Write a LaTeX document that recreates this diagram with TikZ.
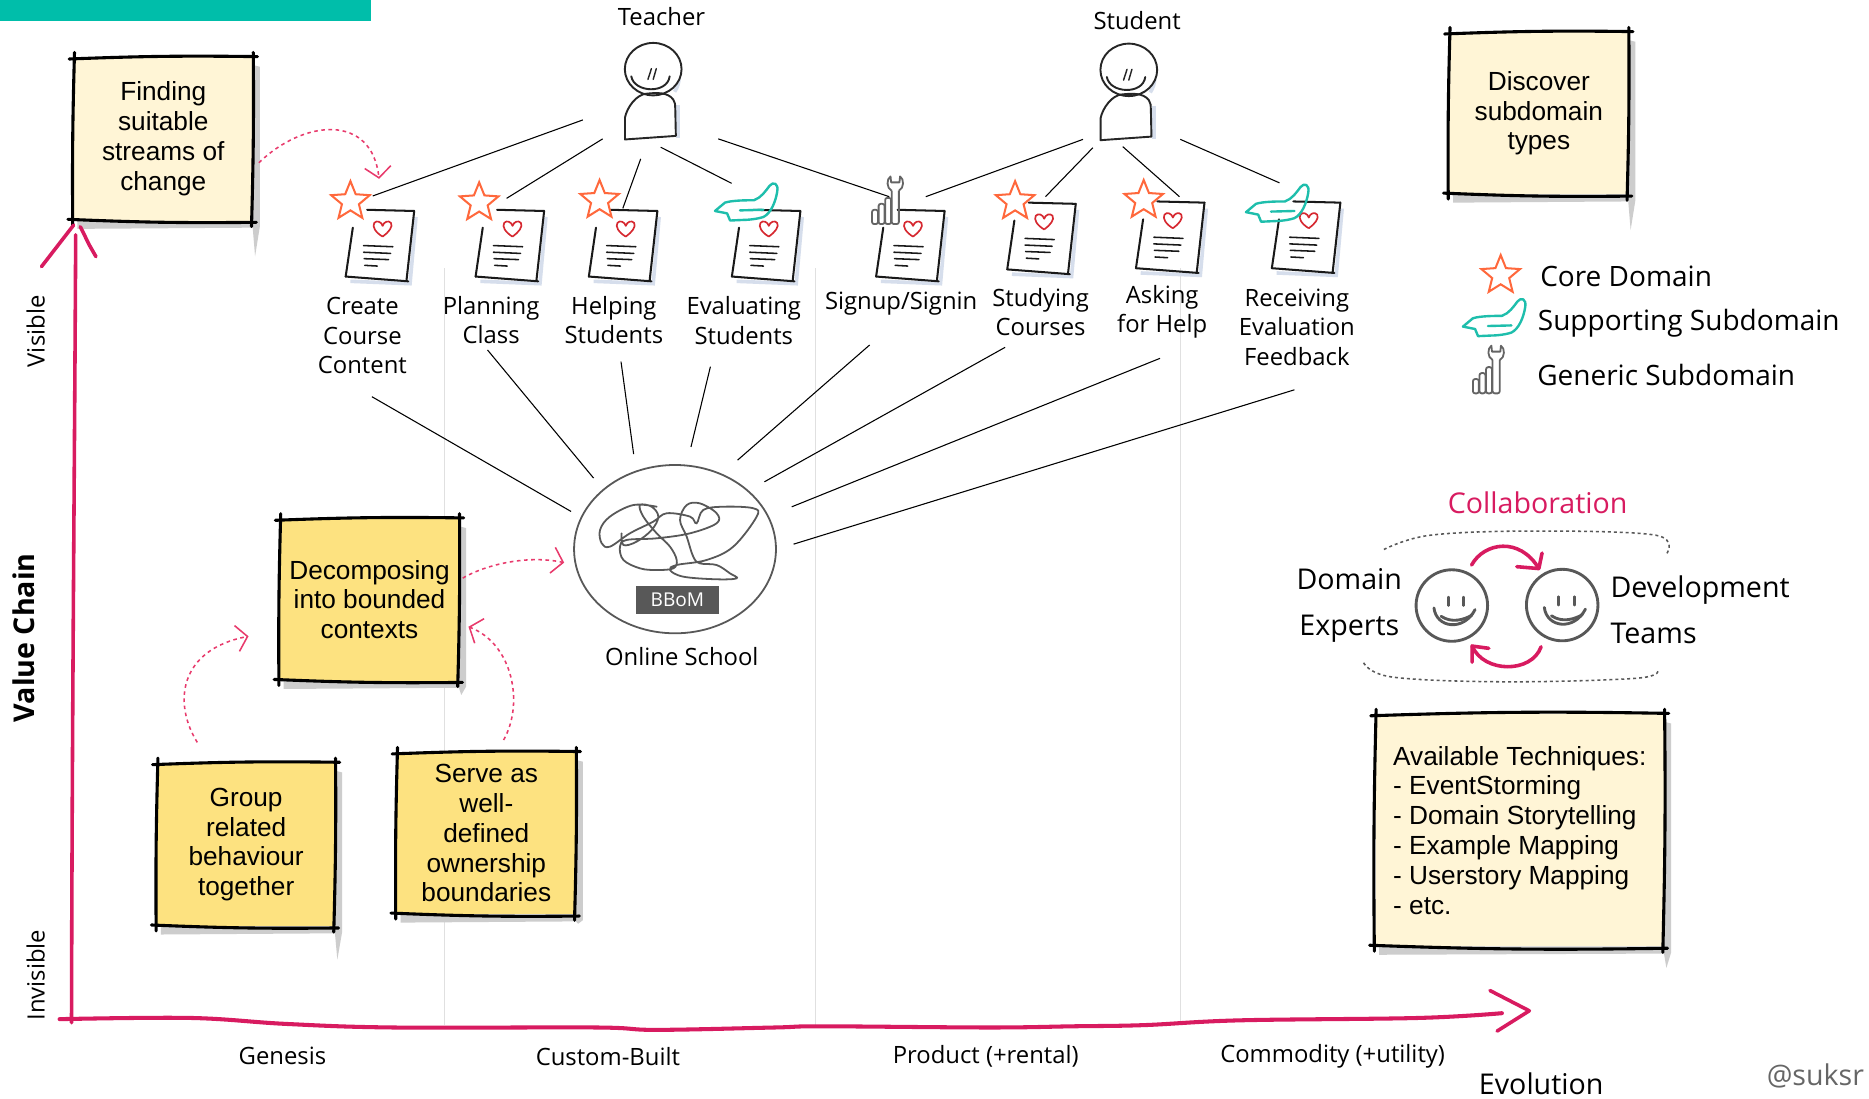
\documentclass[tikz,border=0pt]{standalone}
\usepackage{fontspec}
\setmainfont{Open Sans}
\newfontfamily\notefont{Liberation Sans}
\usetikzlibrary{arrows.meta,calc}

\definecolor{barteal}{RGB}{0,190,170}
\definecolor{axismag}{RGB}{216,27,96}
\definecolor{dashpink}{RGB}{232,58,108}
\definecolor{notecream}{RGB}{255,245,214}
\definecolor{noteyellow}{RGB}{253,226,128}
\definecolor{starorange}{RGB}{255,104,60}
\definecolor{heartred}{RGB}{214,40,48}
\definecolor{handteal}{RGB}{30,190,172}
\definecolor{inkgray}{RGB}{88,88,88}
\definecolor{gridgray}{RGB}{224,224,224}
\definecolor{shadowgray}{RGB}{205,205,205}
\definecolor{pageshade}{RGB}{214,222,236}
\definecolor{handlegray}{RGB}{100,100,100}

% sticky note: name, x1, y1, x2, y2, fill, shadow tail, node options, text
\newcommand\stickynote[9]{%
  \fill[shadowgray] (#4-2,#3+6) -- (#4+6,#3+8) -- (#4+6,#5+5) -- (#4+2,#5+#7) -- (#4,#5+6) -- (#2+3,#5+7) -- (#2+3,#5) -- (#4-2,#5) -- cycle;
  \fill[#6] (#2,#3) rectangle (#4,#5);
  \draw[noteline] (#2-4,#3+1.5) to[bend left=1.5] (#4+4,#3-0.5);
  \draw[noteline] (#4+0.5,#3-4) to[bend left=1] (#4-1,#5+5);
  \draw[noteline] (#4+3,#5+1.5) to[bend left=1.5] (#2-5,#5-1);
  \draw[noteline] (#2-1,#5+4) to[bend left=1] (#2+0.5,#3-4);
  \node[notetxt,minimum width=#4-#2,minimum height=#5-#3,#8] (#1) at ({(#2+#4)/2},{(#3+#5)/2}) {#9};
}

\tikzset{
  noteline/.style={line width=2.6pt,line cap=round,black},
  notetxt/.style={font=\notefont\fontsize{22}{25}\selectfont,align=center,inner sep=0pt},
  lbl/.style={font=\fontsize{20}{24.5}\selectfont,align=center,inner sep=0pt},
  legendtxt/.style={font=\fontsize{23.5}{28}\selectfont,anchor=west,inner sep=0pt},
  bigtxt/.style={font=\fontsize{24}{39}\selectfont,inner sep=0pt},
  link/.style={line width=0.9pt,black},
  docline/.style={line width=1.7pt,black!90,line cap=round,line join=round},
  heartline/.style={line width=1.4pt,heartred,line join=round},
  starline/.style={line width=1.7pt,starorange,line join=miter},
  handline/.style={line width=2pt,handteal,line join=round,line cap=round},
  genline/.style={line width=1.5pt,handlegray,rounded corners=1.8pt},
  actorline/.style={line width=1.6pt,black!85,line cap=round},
  faceline/.style={line width=2.4pt,inkgray,line cap=round},
  axisline/.style={line width=3pt,axismag,line cap=round,line join=round},
  dasharrow/.style={line width=1.3pt,dashpink,dash pattern=on 3pt off 3pt,
    -{Straight Barb[length=9pt,width=22pt,line width=1.3pt]}},
  collab/.style={line width=3pt,axismag,line cap=round},
  dotborder/.style={line width=1.3pt,inkgray,dash pattern=on 2.5pt off 2.5pt},
  gridline/.style={line width=0.8pt,gridgray},
  pics/docpage/.style={code={
    \draw[line width=3pt,pageshade] (31,-24) -- (26,32) -- (-24,30);
    \draw[docline] (-10,-30) -- (29.5,-29);
    \draw[docline] (29.5,-29) -- (23,29.5);
    \draw[docline] (-28,26) -- (24.5,30);
    \draw[docline] (-22,-15) -- (-28,26);
    \draw[heartline] (3,-7.5) .. controls (-3,-11) and (-6,-16) .. (-4,-19) .. controls (-2,-21.5) and (2,-20) .. (3,-16.5) .. controls (4,-20) and (8,-21.5) .. (10,-19) .. controls (12,-16) and (8,-11) .. (3,-7.5);
    \draw[docline,line width=1.3pt] (-13,0) -- (11.5,1) (-13,5.6) -- (9.7,6.6) (-12.5,11) -- (8,11.8) (-12,16.6) -- (-1.5,17.2);
  }},
  pics/corestar/.style={code={
    \draw[starline] (-90:17) -- (-54:7.5) -- (-18:17) -- (18:7.5) -- (54:17) -- (90:7.5) -- (126:17) -- (162:7.5) -- (198:17) -- (234:7.5) -- cycle;
  }},
  pics/supporthand/.style={code={
    \draw[handline] (-26.7,5) -- (-18.3,-2) .. controls (-12,-4) and (0,-4) .. (6,-4) .. controls (12,-6) and (16,-12) .. (19,-16) .. controls (22,-20) and (27,-18.5) .. (25.5,-11) .. controls (24,-2) and (20,7) .. (14,10) .. controls (8,12) and (0,12.5) .. (-3,12.5) -- (-14,13) -- (-16.5,7) -- cycle;
    \draw[handline] (-5.7,4.5) -- (14,4);
  }},
  pics/genericmark/.style={code={
    \draw[genline] (-17,7) rectangle (-12,19);
    \draw[genline] (-11.5,2) rectangle (-6.5,19);
    \draw[genline] (-6,-3) rectangle (-1,19);
    \draw[genline] (-0.5,-9) -- (-0.5,19) -- (5.5,19) -- (5.5,-9);
    \draw[line width=1.5pt,handlegray,line join=round] (-0.5,-9) .. controls (-5,-11) and (-5,-19) .. (-1.5,-21) -- (-1,-16) -- (6,-16) -- (6.5,-21) .. controls (10,-19) and (10,-11) .. (5.5,-9);
  }},
  pics/actor/.style={code={
    \draw[line width=3pt,pageshade] (4,-21) .. controls (16,-16) and (28,4) .. (18,19);
    \draw[line width=3pt,pageshade] (21,30) -- (21,58);
    \draw[actorline,fill=white] (0,0) ellipse[x radius=23.8,y radius=22];
    \draw[actorline] (-18.4,6) .. controls (-16,20) and (12,21) .. (13.8,6);
    \draw[actorline,line width=1.2pt] (-4.4,8.6) -- (-1.5,-0.4) (0,8.6) -- (2.6,-0.4);
    \draw[actorline,line join=round] (-23.7,59) -- (-23.7,40.7) .. controls (-22,32) and (-14,21) .. (-5.5,20.6) .. controls (2,19.8) and (12,19) .. (16.8,25.4) .. controls (18.5,28) and (18.5,30) .. (18.5,33) -- (19,56) -- cycle;
  }},
  pics/smiley/.style={code={
    \draw[faceline] (0,0) circle[radius=30];
    \draw[faceline] (-3,-7) -- (-3,0) (10,-7) -- (10,0);
    \draw[faceline] (-15,2) .. controls (-13,19) and (10,22) .. (19.5,3.4);
    \draw[faceline] (-9,9) .. controls (0,15) and (10,12) .. (17,8);
  }},
}

\begin{document}
\begin{tikzpicture}[x=1pt,y=-1pt]
\useasboundingbox (0,0) rectangle (1568,922);
\fill[white] (0,0) rectangle (1568,922);

% header band
\fill[barteal] (0,0) rectangle (311,18);

% evolution stage separators
\foreach \gx in {373,684,990} \draw[gridline] (\gx,225) -- (\gx,860);

% sticky notes
\stickynote{find}{62}{48}{212}{185}{notecream}{30}{}{Finding\\suitable\\streams of\\change}
\stickynote{discover}{1216}{27}{1366}{163}{notecream}{30}{}{Discover\\subdomain\\types}
\stickynote{decomp}{235}{435}{385}{571}{noteyellow}{12}{}{Decomposing\\into bounded\\contexts}
\stickynote{group}{132}{640}{281}{777}{noteyellow}{28}{}{Group\\related\\behaviour\\together}
\stickynote{serve}{333}{631}{483}{767}{noteyellow}{8}{}{Serve as\\well-\\defined\\ownership\\boundaries}
\stickynote{techniques}{1154}{599}{1396}{794}{notecream}{18}{align=left}{Available Techniques:\\- EventStorming\\- Domain Storytelling\\- Example Mapping\\- Userstory Mapping\\- etc.}

% value chain axis
\draw[axisline] (60,858) .. controls (60.5,600) and (62.5,400) .. (63.5,197);
\draw[axisline] (34.8,223.7) -- (61.8,188.8);
\draw[axisline] (67.4,190.2) -- (74.9,205.5) -- (80.5,215.3);
% evolution axis
\draw[axisline,line width=3.4pt] plot[smooth,tension=0.6] coordinates {(50,855) (160,854) (240,859) (330,862) (500,862) (550,864) (650,862) (690,861) (830,862) (900,861) (960,860) (1040,856) (1190,854) (1260,850)};
\draw[axisline] (1250,831) -- (1283,848) -- (1256,865);

% axis labels
\node[lbl,rotate=90] (visible) at (30,278) {Visible};
\node[lbl,rotate=90] (invisible) at (30,818) {Invisible};
\node[font=\bfseries\fontsize{24}{28}\selectfont,rotate=90,inner sep=0pt] (valuechain) at (20,535) {Value Chain};
\node[lbl] (genesis) at (237,886) {Genesis};
\node[lbl] (custom) at (510,886) {Custom-Built};
\node[lbl] (product) at (827,886) {Product (+rental)};
\node[lbl] (commodity) at (1118,886) {Commodity (+utility)};
\node[bigtxt] (evolution) at (1293,909) {Evolution};
\node[bigtxt,text=black!60] (handle) at (1523,903) {@suksr};

% actors
\coordinate (teacher) at (548,58);
\coordinate (student) at (947,58.6);
\pic at (teacher) {actor};
\pic at (student) {actor};
\node[lbl] (teacherlbl) at (555,14) {Teacher};
\node[lbl] (studentlbl) at (954,17) {Student};

% subdomain pages
\coordinate (d1) at (318,206);
\coordinate (d2) at (427,206);
\coordinate (d3) at (522,206);
\coordinate (d4) at (642,206);
\coordinate (d5) at (763,206);
\coordinate (d6) at (873,200);
\coordinate (d7) at (981,199);
\coordinate (d8) at (1095,199);
\foreach \d in {d1,d2,d3,d4,d5,d6,d7,d8} \pic at (\d) {docpage};
\pic at ([shift={(-24,-37)}]d1) {corestar};
\pic at ([shift={(-25,-36)}]d2) {corestar};
\pic at ([shift={(-19,-38)}]d3) {corestar};
\pic at ([shift={(-15.5,-34)}]d4) {supporthand};
\pic at ([shift={(-14.4,-37)}]d5) {genericmark};
\pic at ([shift={(-21.4,-31)}]d6) {corestar};
\pic at ([shift={(-21.5,-31)}]d7) {corestar};
\pic at ([shift={(-23,-26)}]d8) {supporthand};

\node[lbl] (l1) at (304,281.5) {Create\\Course\\Content};
\node[lbl] (l2) at (412,268.5) {Planning\\Class};
\node[lbl] (l3) at (515,268.5) {Helping\\Students};
\node[lbl] (l4) at (624,269) {Evaluating\\Students};
\node[lbl] (l5) at (756,255) {Signup/Signin};
\node[lbl] (l6) at (873,261.5) {Studying\\Courses};
\node[lbl] (l7) at (975,261.5) {Asking\\for Help};
\node[lbl] (l8) at (1088,274.5) {Receiving\\Evaluation\\Feedback};

% actor to subdomain links
\draw[link] ([shift={(-59,42.6)}]teacher) -- ([shift={(-5.3,-41.6)}]d1);
\draw[link] ([shift={(-42.4,58.5)}]teacher) -- ([shift={(-2,-39.6)}]d2);
\draw[link] ([shift={(-10.5,75.3)}]teacher) -- ([shift={(0.5,-31.2)}]d3);
\draw[link] ([shift={(6.3,65.5)}]teacher) -- ([shift={(-28.2,-52.2)}]d4);
\draw[link] ([shift={(54.6,58.5)}]teacher) -- ([shift={(-17,-41)}]d5);
\draw[link] ([shift={(-38.4,58.3)}]student) -- ([shift={(13.7,-41)}]d5);
\draw[link] ([shift={(-30.1,65.3)}]student) -- ([shift={(4.1,-35)}]d6);
\draw[link] ([shift={(-5.1,64.4)}]student) -- ([shift={(8.5,-34)}]d7);
\draw[link] ([shift={(43.2,58.3)}]student) -- ([shift={(-21.6,-45.6)}]d8);

% the big ball of mud
\coordinate (school) at (566.3,460.7);
\draw[line width=1.5pt,inkgray] (school) ellipse[x radius=84.7,y radius=70.6];
\draw[line width=1.5pt,inkgray,line cap=round] plot[smooth,tension=0.6] coordinates {
 (521.5,447.4) (523.0,457.2) (534.1,454.4) (546.7,444.6) (552.3,433.4) (546.7,425.1) (536.9,423.7)
 (539.7,433.4) (550.9,447.4) (562.1,458.6) (567.7,469.8) (564.9,476.8) (550.9,478.2) (536.9,476.8)
 (523.0,469.8) (520.1,458.6) (525.7,453.0) (550.9,451.6) (578.9,447.4) (601.2,439.0) (601.2,430.6)
 (587.2,422.3) (576.1,423.7) (570.5,436.2) (576.1,450.2) (581.6,467.0) (587.2,472.6) (601.2,474.0)
 (612.4,481.0) (618.0,485.2) (601.2,486.0) (573.3,483.8) (562.1,478.2) (567.7,474.0) (592.8,469.8)
 (615.2,458.6) (634.8,433.4) (632.0,426.4) (606.8,425.1) (590.0,427.8) (584.4,439.0) (578.9,433.4)
 (559.3,430.6) (548.1,437.6) (528.5,447.4) (511.7,458.6) (504.8,455.8) (503.4,444.6) (511.7,433.4)
 (531.3,423.7) (550.9,425.1)};
\node[fill=inkgray,text=white,minimum width=69pt,minimum height=23.4pt,inner sep=0pt,
  font=\fontsize{16}{18}\selectfont] (bbom) at (568.3,503.3) {BBoM};
\node[lbl] (schoollbl) at (572,551) {Online School};

% subdomain to system links
\draw[link] ([shift={(8,51.3)}]l1.center) -- ([shift={(-87.2,-31.6)}]school);
\draw[link] ([shift={(-3,25.1)}]l2.center) -- ([shift={(-68.3,-59.6)}]school);
\draw[link] ([shift={(6,34.9)}]l3.center) -- ([shift={(-34.7,-79.7)}]school);
\draw[link] ([shift={(-28,38.6)}]l4.center) -- ([shift={(13.4,-85.8)}]school);
\draw[link] ([shift={(-26.4,34.4)}]l5.center) -- ([shift={(52.5,-74.7)}]school);
\draw[link] ([shift={(-29.8,29.9)}]l6.center) -- ([shift={(75,-56.5)}]school);
\draw[link] ([shift={(-1.8,39.1)}]l7.center) -- ([shift={(97.9,-35.5)}]school);
\draw[link] ([shift={(-2,52.5)}]l8.center) -- ([shift={(99.5,-4.2)}]school);

% dashed flow between notes
\draw[dasharrow] ([shift={(5,20)}]find.east) .. controls (255,100) and (312,95) .. ([shift={(0,-56)}]d1);
\draw[dasharrow] ([shift={(3,-18)}]decomp.east) .. controls (405,475) and (440,465) .. ([shift={(-93,11.3)}]school);
\draw[dasharrow] ([shift={(-41,-17)}]group.north) .. controls (145,590) and (150,545) .. ([shift={(2,-106)}]group.north);
\draw[dasharrow] ([shift={(14.5,-10)}]serve.north) .. controls (440,590) and (430,540) .. ([shift={(-15,-105)}]serve.north);

% legend
\pic at (1259,231) {corestar};
\pic at (1254,269) {supporthand};
\pic at (1252.7,311) {genericmark};
\node[legendtxt] (corelbl) at (1292,232) {Core Domain};
\node[legendtxt] (supportlbl) at (1290,271) {Supporting Subdomain};
\node[legendtxt] (genericlbl) at (1289.5,315) {Generic Subdomain};

% collaboration
\node[bigtxt,text=axismag] (collablbl) at (1290,422) {Collaboration};
\draw[dotborder] plot[smooth,tension=0.6] coordinates {(1161,461) (1200,449) (1288,445.5) (1389,449) (1398,465)};
\draw[dotborder] plot[smooth,tension=0.6] coordinates {(1144,556) (1168,568) (1263,572) (1373,569) (1391,562)};
\coordinate (fexp) at (1218,508);
\coordinate (fdev) at (1310.6,507.6);
\pic at (fexp) {smiley};
\pic at (fdev) {smiley};
\draw[collab] ([shift={(16.6,-34)}]fexp) .. controls (1245,455) and (1275,450) .. ([shift={(-19.6,-30.6)}]fdev);
\draw[collab,line join=round] (1272.5,475.4) -- ([shift={(-19.6,-30.6)}]fdev) -- (1293.7,464);
\draw[collab] ([shift={(-17.7,35)}]fdev) .. controls (1285,565) and (1245,565) .. ([shift={(17,34)}]fexp);
\draw[collab,line join=round] (1235,555.5) -- ([shift={(17,34)}]fexp) -- (1249,543.9);
\node[bigtxt,align=center] (experts) at (1132,508) {Domain\\Experts};
\node[bigtxt,align=left,anchor=west] (devteams) at (1351,511.5) {Development\\Teams};
\end{tikzpicture}
\end{document}
